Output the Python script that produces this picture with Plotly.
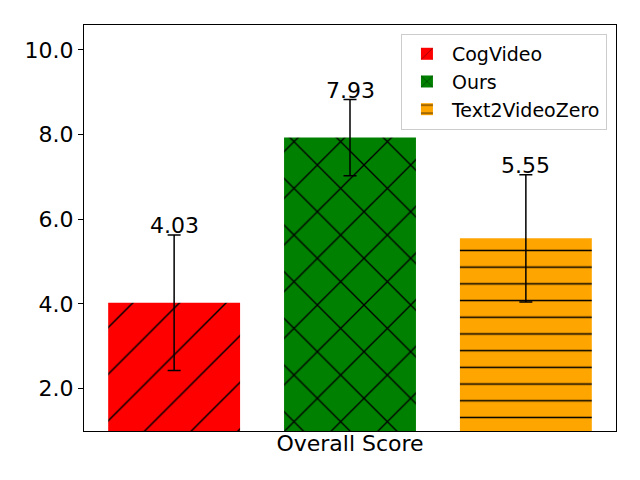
import plotly.graph_objects as go

methods = ["CogVideo", "Ours", "Text2VideoZero"]
scores = [4.03, 7.93, 5.55]
errors = [1.6, 0.9, 1.5]
colors = ["red", "green", "orange"]
hatches = ["/", "x", "-"]
hatch_sizes = [33, 33, 16.7]
hatch_solidity = [0.045, 0.08, 0.09]
positions = [0, 1, 2]
xlabel = "Overall Score"
ytick_vals = [2, 4, 6, 8, 10]

FONT = "DejaVu Sans"

fig = go.Figure()
for i, m in enumerate(methods):
    fig.add_trace(go.Bar(
        x=[positions[i]], y=[scores[i]], name=m, width=0.75,
        marker=dict(color=colors[i], line=dict(width=0),
                    pattern=dict(shape=hatches[i], fgcolor="black", bgcolor=colors[i],
                                 size=hatch_sizes[i], solidity=hatch_solidity[i], fillmode="replace")),
        error_y=dict(type="data", array=[errors[i]], visible=True, color="black",
                     thickness=1.5, width=6.5),
        base=0,
    ))
    fig.add_annotation(x=positions[i], y=scores[i] + errors[i], text=f"{scores[i]:.2f}",
                       showarrow=False, yanchor="bottom", yshift=-5,
                       font=dict(family=FONT, size=22, color="black"))

fig.update_layout(
    width=640, height=480,
    margin=dict(l=76, r=32, t=17, b=57, autoexpand=False),
    plot_bgcolor="white", paper_bgcolor="white",
    font=dict(family=FONT, size=22, color="black"),
    barmode="overlay",
    showlegend=True,
    legend=dict(x=0.983, y=0.978, xanchor="right", yanchor="top",
                bgcolor="white", bordercolor="#cccccc", borderwidth=1,
                font=dict(family=FONT, size=19, color="black"),
                itemwidth=40),
)
fig.update_xaxes(range=[-0.5125, 2.5125], showticklabels=False, ticks="",
                 showline=True, mirror=True, linecolor="black", linewidth=1,
                 showgrid=False, zeroline=False, automargin=False,
                 title=dict(text=xlabel, standoff=4, font=dict(family=FONT, size=22)))
fig.update_yaxes(range=[1.0, 10.59], tickvals=ytick_vals, tickformat=".1f",
                 ticks="outside", ticklen=5, tickwidth=1, tickcolor="black",
                 showline=True, mirror=True, linecolor="black", linewidth=1,
                 showgrid=False, zeroline=False, automargin=False,
                 tickfont=dict(family=FONT, size=22))

fig.write_html("out.html")
